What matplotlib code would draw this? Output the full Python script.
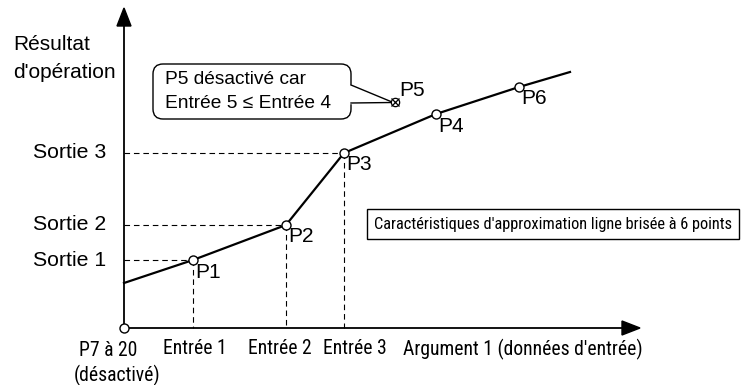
import matplotlib.pyplot as plt
from matplotlib import font_manager
from matplotlib.patches import FancyBboxPatch, Polygon

# diagram coordinates (x to the right, y downward, origin top-left)
origin = (124, 328)
line_x = [124, 193, 286, 344, 436, 519, 570]
line_y = [283, 260, 225, 153, 114, 87, 72]
pt_names = ['P1', 'P2', 'P3', 'P4', 'P6']
pt_x = [193, 286, 344, 436, 519]
pt_y = [260, 225, 153, 114, 87]
p5 = (395, 102)

out_labels = ['Sortie 1', 'Sortie 2', 'Sortie 3']
in_labels = ['Entrée 1', 'Entrée 2', 'Entrée 3']
in_label_x = [195, 280, 355]

font = 'Liberation Sans'
names = {f.name for f in font_manager.fontManager.ttflist}
cond = [n for n in ['Liberation Sans Narrow', 'DejaVu Sans Condensed', 'Roboto Condensed',
                    'Open Sans Condensed'] if n in names]
if cond:
    narrow = [cond[0], font]
    fs_bottom, fs_box = 14.1, 11.8
else:
    narrow = [font]
    fs_bottom, fs_box = 12.2, 10.6

fig = plt.figure(figsize=(7.42, 3.85), dpi=100)
ax = fig.add_axes([0, 0, 1, 1])
ax.set_xlim(0, 742)
ax.set_ylim(385, 0)
ax.axis('off')

# axes with arrows
ax.plot([124, 124], [328, 20], color='black', lw=1.3)
ax.plot([124, 628], [328, 328], color='black', lw=1.3)
ax.add_patch(Polygon([[124, 8], [117, 26], [131, 26]], closed=True, color='black'))
ax.add_patch(Polygon([[640, 328], [622, 321], [622, 335]], closed=True, color='black'))

# dashed guides
for i in range(3):
    ax.plot([124, pt_x[i]], [pt_y[i], pt_y[i]], color='black', lw=0.8, ls=(0, (5, 3.5)))
    ax.plot([pt_x[i], pt_x[i]], [pt_y[i], 328], color='black', lw=0.8, ls=(0, (5, 3.5)))
    ax.text(106, pt_y[i], out_labels[i], ha='right', va='center', fontsize=15.3, family=font)
    ax.text(in_label_x[i], 349, in_labels[i], ha='center', va='center', fontsize=fs_bottom, family=narrow)

# polyline
ax.plot(line_x, line_y, color='black', lw=1.6, zorder=3)
ax.plot(pt_x, pt_y, 'o', ms=6.5, mfc='white', mec='black', mew=1.0, zorder=4)
ax.plot([origin[0]], [origin[1]], 'o', ms=6.5, mfc='white', mec='black', mew=1.0, zorder=4)
ax.plot([p5[0]], [p5[1]], 'o', ms=6, mfc='white', mec='black', mew=0.9, zorder=4)
ax.plot([p5[0]], [p5[1]], 'x', ms=6, mec='black', mew=0.9, zorder=5)

for name, x, y in zip(pt_names, pt_x, pt_y):
    ax.text(x + 2, y + 12, name, ha='left', va='center', fontsize=15, family=font)
ax.text(p5[0] + 4, p5[1] - 12, 'P5', ha='left', va='center', fontsize=15, family=font)

# axis titles
ax.text(13, 45, 'Résultat', ha='left', va='center', fontsize=15, family=font)
ax.text(13, 72, "d'opération", ha='left', va='center', fontsize=15, family=font)
ax.text(108, 351, 'P7 à 20', ha='center', va='center', fontsize=fs_bottom, family=narrow)
ax.text(117, 375, '(désactivé)', ha='center', va='center', fontsize=fs_bottom, family=narrow)
ax.text(403, 349, "Argument 1 (données d'entrée)", ha='left', va='center', fontsize=fs_bottom, family=narrow)

# callout
box = FancyBboxPatch((163, 74), 178, 35, boxstyle='round,pad=10', fc='white', ec='black', lw=1.0)
ax.add_patch(box)
ax.plot([351, 351], [86, 102], color='white', lw=2.5, zorder=3)
ax.plot([351, p5[0] - 3], [85, p5[1]], color='black', lw=1.0, zorder=3)
ax.plot([351, p5[0] - 3], [103, p5[1] + 0.5], color='black', lw=1.0, zorder=3)
ax.text(165, 79, 'P5 désactivé car', ha='left', va='center', fontsize=13.8, family=font)
ax.text(165, 103, 'Entrée 5 ≤ Entrée 4', ha='left', va='center', fontsize=13.8,
        family=[font, 'DejaVu Sans'])

# legend-like box
ax.text(374, 224, "Caractéristiques d'approximation ligne brisée à 6 points", ha='left', va='center',
        fontsize=fs_box, family=narrow,
        bbox=dict(boxstyle='square,pad=0.45', fc='white', ec='black', lw=1.0))

fig.savefig('out.png', dpi=100)
